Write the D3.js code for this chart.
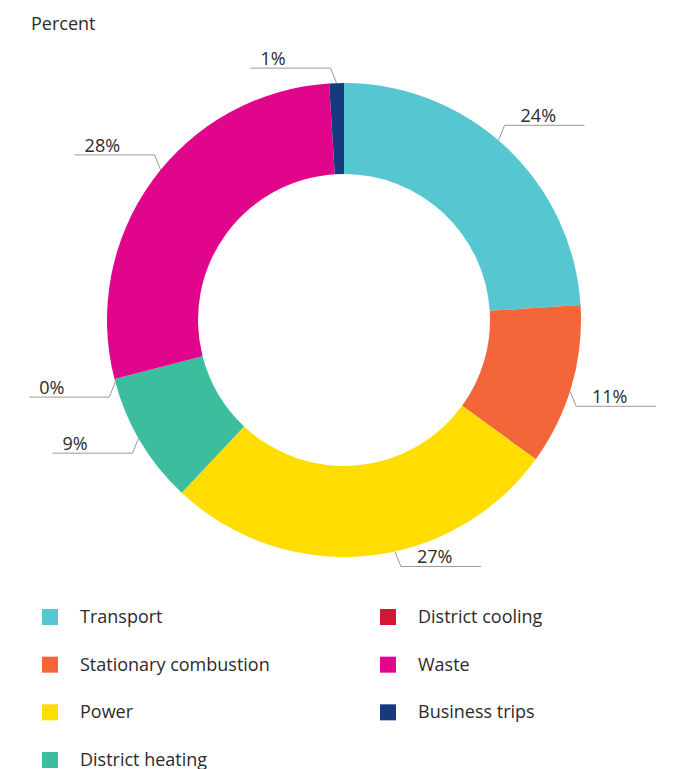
<!DOCTYPE html>
<html>
<head>
<meta charset="utf-8">
<script src="https://cdn.jsdelivr.net/npm/d3@7"></script>
<style>
  html, body { margin: 0; padding: 0; background: #fff; }
  svg { display: block; font-family: "Open Sans", "Noto Sans", sans-serif; }
</style>
</head>
<body>
<svg id="chart" width="677" height="769"></svg>
<script>
// Emission sources and their share of the total, in percent
const categories = ["Transport", "Stationary combustion", "Power", "District heating",
                    "District cooling", "Waste", "Business trips"];
const shares = [24, 11, 27, 9, 0, 28, 1];
const colors = ["#56C6D0", "#F36639", "#FFDD00", "#3BBD9E", "#D31737", "#E1058C", "#173A7F"];
const unitLabel = "Percent";

// Small angular nudges (degrees) for where each leader line leaves the ring
const leaderNudge = [-2.5, 1.3, -7, 0.7, -0.8, 3.3, 0];

const svg = d3.select("#chart");
const cx = 344, cy = 320, outerR = 237, innerR = 146;
const fontSize = 18;
const textColor = "#2b2b2b";

svg.append("text")
  .attr("x", 31).attr("y", 30)
  .attr("font-size", fontSize).attr("fill", textColor)
  .text(unitLabel);

const data = categories.map((c, i) => ({ name: c, value: shares[i], color: colors[i] }));

const pie = d3.pie().value(d => d.value).sort(null).startAngle(0).endAngle(2 * Math.PI);
const arcs = pie(data);
const arc = d3.arc().innerRadius(innerR).outerRadius(outerR);

const g = svg.append("g").attr("transform", `translate(${cx},${cy})`);

g.selectAll("path.slice")
  .data(arcs)
  .join("path")
  .attr("class", "slice")
  .attr("d", arc)
  .attr("fill", d => d.data.color);

// Leader lines with labels: short diagonal out of the ring, then a horizontal run
const fmt = d => `${d3.format(".0f")(d)}%`;
const run = 80;
arcs.forEach((a, i) => {
  const mid = (a.startAngle + a.endAngle) / 2 + leaderNudge[i] * Math.PI / 180;
  const sx = Math.sin(mid), sy = -Math.cos(mid);
  const right = sx > 0.001;
  const up = sy < 0;
  const p0 = [outerR * sx, outerR * sy];
  const p1 = [p0[0] + (right ? 6 : -6), p0[1] + (up ? -15 : 15)];
  const p2 = [p1[0] + (right ? run : -run), p1[1]];
  g.append("polyline")
    .attr("points", [p0, p1, p2].map(p => p.join(",")).join(" "))
    .attr("fill", "none")
    .attr("stroke", "#9a9a9a")
    .attr("stroke-width", 1);
  const left = Math.min(p1[0], p2[0]);
  g.append("text")
    .attr("x", left + (right ? 16 : 10))
    .attr("y", p1[1] - 3)
    .attr("font-size", fontSize)
    .attr("fill", textColor)
    .text(fmt(a.data.value));
});

// Legend, two columns filled top to bottom
const perCol = 4;
const colX = [42, 380];
const rowY = d3.scaleLinear().domain([0, 3]).range([617, 760]);
const legend = svg.append("g");
data.forEach((d, i) => {
  const col = Math.floor(i / perCol), row = i % perCol;
  const y = rowY(row);
  legend.append("rect")
    .attr("x", colX[col]).attr("y", y - 8)
    .attr("width", 16).attr("height", 16)
    .attr("fill", d.color);
  legend.append("text")
    .attr("x", colX[col] + 38).attr("y", y + 6)
    .attr("font-size", fontSize).attr("fill", textColor)
    .text(d.name);
});
</script>
</body>
</html>
